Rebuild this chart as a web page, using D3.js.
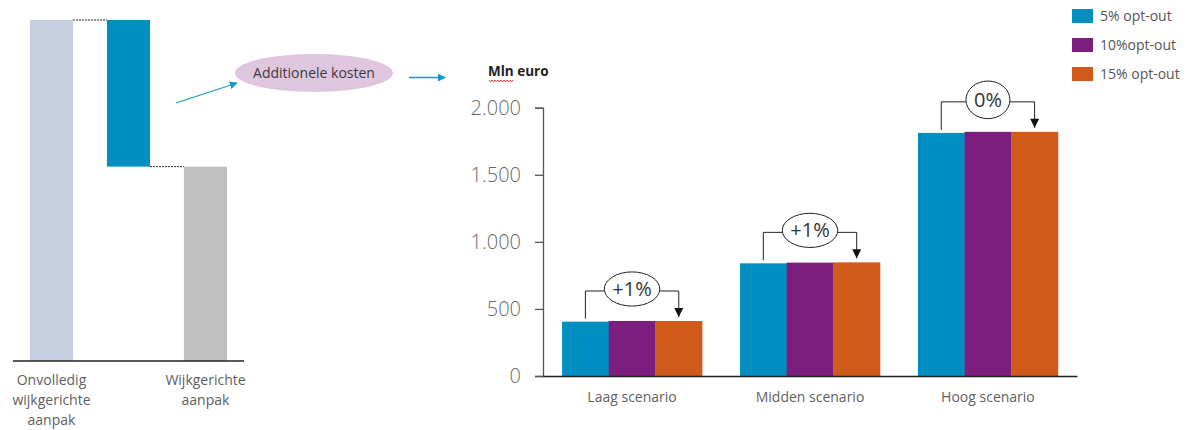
<!DOCTYPE html>
<html>
<head>
<meta charset="utf-8">
<script src="https://cdn.jsdelivr.net/npm/d3@7"></script>
<style>
  html, body { margin: 0; padding: 0; background: #fff; }
  svg { display: block; font-family: "Open Sans", "Segoe UI", "Noto Sans", sans-serif; }
</style>
</head>
<body>
<svg id="chart" width="1197" height="430"></svg>
<script>
// ---- Waterfall (left) ----
const wfCategories = ["start", "delta", "end"];
const wfStart = 100;
const wfEnd = 57;
const wfLabels = [["Onvolledig", "wijkgerichte", "aanpak"], [], ["Wijkgerichte", "aanpak"]];

// ---- Grouped bars (right) ----
const scenarios = ["Laag scenario", "Midden scenario", "Hoog scenario"];
const seriesNames = ["5% opt-out", "10%opt-out", "15% opt-out"];
const opt5 = [405, 840, 1812];
const opt10 = [410, 845, 1820];
const opt15 = [410, 847, 1820];
const yTicks = [0, 500, 1000, 1500, 2000];
const seriesColors = ["#008fc0", "#7b1e7e", "#cf5a19"];

const svg = d3.select("#chart");
const nl = d3.formatLocale({ decimal: ",", thousands: ".", grouping: [3], currency: ["€", ""] });
const fmt = nl.format(",.0f");

// ===== Waterfall =====
const wx = d3.scaleBand().domain(wfCategories).range([13, 244]).paddingInner(0.44).paddingOuter(0.22);
const wy = d3.scaleLinear().domain([0, 100]).range([361, 20]);
const wfBars = [
  { c: "start", y0: 0, y1: wfStart, fill: "#c5cfe0" },
  { c: "delta", y0: wfEnd, y1: wfStart, fill: "#008fbf" },
  { c: "end", y0: 0, y1: wfEnd, fill: "#bfbfbf" }
];
const wf = svg.append("g");
wf.selectAll("rect").data(wfBars).join("rect")
  .attr("x", d => wx(d.c)).attr("width", wx.bandwidth())
  .attr("y", d => wy(d.y1)).attr("height", d => wy(d.y0) - wy(d.y1))
  .attr("fill", d => d.fill);
// connectors
const conn = [
  { from: "start", to: "delta", v: wfStart },
  { from: "delta", to: "end", v: wfEnd }
];
wf.selectAll("line.conn").data(conn).join("line")
  .attr("x1", d => wx(d.from) + wx.bandwidth()).attr("x2", d => wx(d.to))
  .attr("y1", d => wy(d.v)).attr("y2", d => wy(d.v))
  .attr("stroke", "#222").attr("stroke-width", 1).attr("stroke-dasharray", "2,1");
wf.append("line").attr("x1", 13).attr("x2", 244).attr("y1", wy(0)).attr("y2", wy(0))
  .attr("stroke", "#222").attr("stroke-width", 1.3);
wfCategories.forEach((c, i) => {
  const t = wf.append("text").attr("text-anchor", "middle")
    .attr("font-size", 14).attr("fill", "#5f5f5f");
  wfLabels[i].forEach((line, j) => {
    t.append("tspan").attr("x", wx(c) + wx.bandwidth() / 2).attr("y", 385 + j * 20).text(line);
  });
});

// ===== Arrows and ellipse =====
const defs = svg.append("defs");
defs.append("marker").attr("id", "blueHead").attr("viewBox", "0 0 10 10")
  .attr("refX", 9).attr("refY", 5).attr("markerWidth", 8).attr("markerHeight", 8)
  .attr("markerUnits", "userSpaceOnUse").attr("orient", "auto")
  .append("path").attr("d", "M0,0 L10,5 L0,10 Z").attr("fill", "#1a98cc");
defs.append("marker").attr("id", "blackHead").attr("viewBox", "0 0 10 10")
  .attr("refX", 5).attr("refY", 10).attr("markerWidth", 9).attr("markerHeight", 10)
  .attr("markerUnits", "userSpaceOnUse").attr("orient", "0")
  .append("path").attr("d", "M0,0 L10,0 L5,10 Z").attr("fill", "#111");

svg.append("line").attr("x1", 176).attr("y1", 103).attr("x2", 237).attr("y2", 83)
  .attr("stroke", "#1a98cc").attr("stroke-width", 1.3).attr("marker-end", "url(#blueHead)");
svg.append("ellipse").attr("cx", 314).attr("cy", 73).attr("rx", 79).attr("ry", 19)
  .attr("fill", "#dfc6df");
svg.append("text").attr("x", 314).attr("y", 78).attr("text-anchor", "middle")
  .attr("font-size", 14).attr("fill", "#3a3a3a").text("Additionele kosten");
svg.append("line").attr("x1", 409).attr("y1", 77.5).attr("x2", 445).attr("y2", 77.5)
  .attr("stroke", "#1a98cc").attr("stroke-width", 1.3).attr("marker-end", "url(#blueHead)");

// ===== Grouped bar chart =====
const x0 = d3.scaleBand().domain(scenarios).range([543, 1077]).paddingInner(0.213).paddingOuter(0.107);
const x1 = d3.scaleBand().domain(seriesNames).range([0, x0.bandwidth()]);
const y = d3.scaleLinear().domain([0, 2000]).range([376, 107.7]);
const series = [opt5, opt10, opt15];

const g = svg.append("g");
scenarios.forEach((s, i) => {
  seriesNames.forEach((n, k) => {
    g.append("rect")
      .attr("x", x0(s) + x1(n)).attr("width", x1.bandwidth() + 0.3)
      .attr("y", y(series[k][i])).attr("height", y(0) - y(series[k][i]))
      .attr("fill", seriesColors[k]);
  });
});

// y axis
const yAxis = g.append("g").attr("transform", "translate(543,0)")
  .call(d3.axisLeft(y).tickValues(yTicks).tickSize(8).tickPadding(14).tickFormat(fmt));
yAxis.select(".domain").attr("stroke", "#555").attr("stroke-width", 1.3);
yAxis.selectAll(".tick line").attr("stroke", "#555").attr("stroke-width", 1.3);
yAxis.selectAll(".tick text").attr("font-size", 20).attr("fill", "#6a6a6a")
  .attr("font-weight", 300).attr("font-family", "'Open Sans', sans-serif");

// x axis
const xAxis = g.append("g").attr("transform", `translate(0,${y(0)})`)
  .call(d3.axisBottom(x0).tickSize(0).tickPadding(16));
xAxis.select(".domain").attr("stroke", "#222").attr("stroke-width", 1.3);
xAxis.selectAll(".tick text").attr("font-size", 14).attr("fill", "#5f5f5f")
  .attr("font-family", "'Open Sans', sans-serif");

// unit label
svg.append("text").attr("x", 488).attr("y", 76).attr("font-size", 13.5).attr("font-weight", 700)
  .attr("fill", "#222").text("Mln euro");
// wavy proofing underline under the unit
const wave = d3.path();
wave.moveTo(489, 80);
for (let xx = 489; xx < 513; xx += 3) {
  wave.lineTo(xx + 1.5, 82);
  wave.lineTo(xx + 3, 80);
}
svg.append("path").attr("d", wave.toString()).attr("fill", "none").attr("stroke", "#e03030").attr("stroke-width", 0.9);

// change annotations between 5% and 15% opt-out
scenarios.forEach((s, i) => {
  const pct = Math.round((opt15[i] / opt5[i] - 1) * 100);
  const label = (pct > 0 ? "+" : "") + pct + "%";
  const xl = x0(s) + x1(seriesNames[0]) + x1.bandwidth() / 2;
  const xr = x0(s) + x1(seriesNames[2]) + x1.bandwidth() / 2;
  const xc = x0(s) + x0.bandwidth() / 2;
  const top = Math.min(y(opt5[i]), y(opt15[i]));
  const yb = top - 30;
  const a = svg.append("g");
  const t = a.append("text").attr("x", xc).attr("y", yb + 5).attr("text-anchor", "middle")
    .attr("font-size", 20).attr("fill", "#333").text(label);
  const tw = t.node().getComputedTextLength();
  const rx = tw / 2 + 8;
  const ry = 17 + Math.max(0, 28 - rx) * 0.3;
  a.append("path")
    .attr("d", `M${xl},${y(opt5[i]) - 3}V${yb}H${xc - rx}`)
    .attr("fill", "none").attr("stroke", "#222").attr("stroke-width", 1);
  a.append("path")
    .attr("d", `M${xc + rx},${yb}H${xr}V${y(opt15[i]) - 4}`)
    .attr("fill", "none").attr("stroke", "#222").attr("stroke-width", 1)
    .attr("marker-end", "url(#blackHead)");
  a.insert("ellipse", "text").attr("cx", xc).attr("cy", yb - 2).attr("rx", rx).attr("ry", ry)
    .attr("fill", "#fff").attr("stroke", "#222").attr("stroke-width", 1);
});

// legend
const lg = svg.append("g").attr("transform", "translate(1072,9)");
seriesNames.forEach((n, k) => {
  const row = lg.append("g").attr("transform", `translate(0,${k * 29})`);
  row.append("rect").attr("width", 21).attr("height", 14).attr("fill", seriesColors[k]);
  row.append("text").attr("x", 28).attr("y", 12).attr("font-size", 14).attr("fill", "#555")
    .text(n);
});
</script>
</body>
</html>
